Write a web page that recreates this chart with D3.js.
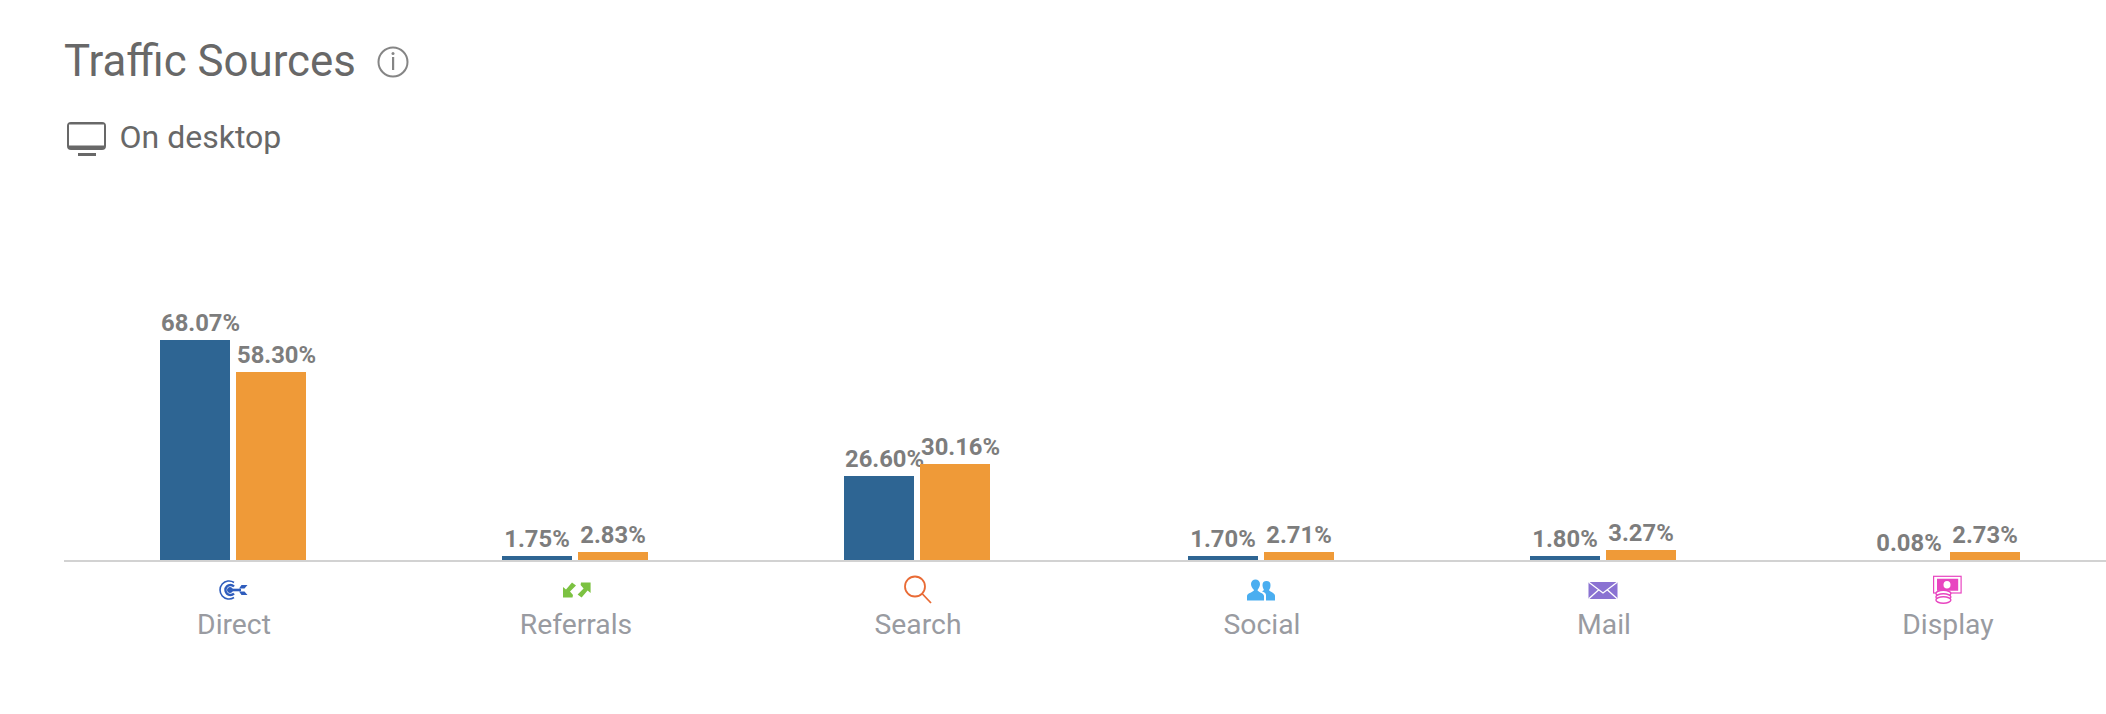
<!DOCTYPE html>
<html><head><meta charset="utf-8">
<script src="https://cdn.jsdelivr.net/npm/d3@7"></script>
<style>html,body{margin:0;padding:0;background:#fff;overflow:hidden}svg{display:block}text{font-family:Roboto,sans-serif}</style>
</head><body><svg id="c" width="2106" height="714"></svg>
<script>
const categories = ["Direct","Referrals","Search","Social","Mail","Display"];
const seriesNames = ["Site A","Site B"];
const seriesA = [68.07,1.75,26.60,1.70,1.80,0.08];
const seriesB = [58.30,2.83,30.16,2.71,3.27,2.73];
const seriesColors = ["#2e6593","#ef9a38"];
const iconColors = ["#2f5dbd","#7cc242","#e96b35","#4aaef0","#8a72d2","#e845c0"];

const svg = d3.select("#c");
const baseY = 560;
const x = d3.scaleBand().domain(categories).range([60.8,2117.8]);
const inner = d3.scaleBand().domain(seriesNames).range([-73,73]).paddingInner(6/76);
const y = d3.scaleLinear().domain([0,68.07]).range([baseY,340]);
const barH = v => Math.floor((baseY - y(v))/2)*2;
const centre = d => Math.round((x(d)+x.bandwidth()/2-73)/2)*2+73;

// Title block
svg.append("text").attr("x",64).attr("y",76).attr("font-size",43.8).attr("fill","#686868").text("Traffic Sources");
const info = svg.append("g").attr("transform","translate(393,62)");
info.append("circle").attr("r",14.5).attr("fill","none").attr("stroke","#858585").attr("stroke-width",2);
info.append("rect").attr("x",-1).attr("y",-5).attr("width",2.2).attr("height",13).attr("fill","#858585");
info.append("circle").attr("cy",-8.5).attr("r",1.5).attr("fill","#858585");
const mon = svg.append("g").attr("fill","#686868");
mon.append("path").attr("fill-rule","evenodd").attr("d","M71 122H102a4 4 0 0 1 4 4V146a4 4 0 0 1-4 4H71a4 4 0 0 1-4-4V126a4 4 0 0 1 4-4ZM69 124.500V145.500H104V124.500Z");
mon.append("rect").attr("x",78).attr("y",153).attr("width",18).attr("height",3);
svg.append("text").attr("x",119.5).attr("y",148).attr("font-size",32).attr("fill","#686868").text("On desktop");

// Axis line
svg.append("rect").attr("x",64).attr("y",baseY).attr("width",2042).attr("height",2).attr("fill","#d2d2d2");

// Bars and labels
const groups = svg.selectAll("g.cat").data(categories).join("g").attr("class","cat")
  .attr("transform",d=>`translate(${centre(d)},0)`);
[seriesA,seriesB].forEach((vals,si)=>{
  const name = seriesNames[si];
  groups.append("rect")
    .attr("x",inner(name)).attr("width",inner.bandwidth())
    .attr("y",(d,i)=>baseY-barH(vals[i])).attr("height",(d,i)=>barH(vals[i]))
    .attr("fill",seriesColors[si]);
  groups.append("text")
    .attr("font-size",23.8).attr("font-weight",700).attr("fill","#7d7d7d")
    .attr("y",(d,i)=>baseY-barH(vals[i])-9.5)
    .text((d,i)=>vals[i].toFixed(2)+"%")
    .each(function(){
      const w = this.getComputedTextLength();
      const bw = inner.bandwidth();
      if (w > bw) d3.select(this).attr("x",inner(name)+1).attr("text-anchor","start");
      else d3.select(this).attr("x",inner(name)+bw/2).attr("text-anchor","middle");
    });
});

// Category labels
groups.append("text").attr("text-anchor","middle").attr("x",1).attr("y",634).attr("font-size",28.3).attr("fill","#999ba1").text(d=>d);

// Icons
const icons = {
  Direct(g){
    g.append("path").attr("fill","none").attr("stroke-width",1.6).attr("d","M1 -7.500A9 9 0 1 0 1 7.500");
    g.append("path").attr("fill","none").attr("stroke-width",2.4).attr("d","M1 -3.500A5 5 0 1 0 1 3.500");
    g.append("circle").attr("cx",-3).attr("r",2.500);
    g.append("path").attr("stroke-width",2.600).attr("d","M-3 0H8");
    g.append("path").attr("stroke","none").attr("d","M6 -1.500L8.500 -5H14.500L11.500 -1.500ZM6 1.500L8.500 5H14.500L11.500 1.500Z");
  },
  Referrals(g){
    g.append("path").attr("stroke","none").attr("d","M-12 7.500V-3L-9 -0.500L-3 -7.500L1 -4.500L-5 1.500L-2 5L-2.500 7.500Z");
    g.append("path").attr("stroke","none").attr("d","M15.600 -7.500V3L12.600 0.500L6.600 7.500L2.600 4.500L8.600 -1.500L5.600 -5L6 -7.500Z");
  },
  Search(g){
    g.append("circle").attr("cx",-2).attr("cy",-3.500).attr("r",10).attr("fill","none").attr("stroke-width",1.800);
    g.append("path").attr("fill","none").attr("stroke-width",1.800).attr("d","M5 3.500L14 13");
  },
  Social(g){
    g.append("path").attr("stroke","none").attr("d","M-14 10.500V6C-14 3 -7 2 -7 0C-9 -2 -10 -4 -10 -6A4.500 4.500 0 0 1 -1 -6C-1 -4 -2 -2 -3.500 0C-3.500 2 3 3 3 6V10.500Z");
    g.append("path").attr("stroke","none").attr("d","M5 10.500V5C5 3 3 2 1 1.500L3 0C2 -2 1.500 -3 1.500 -5A4 4 0 0 1 9.500 -5C9.500 -3 9 -1 8 0C9 2 14 3 14 6V10.500Z");
  },
  Mail(g){
    g.append("rect").attr("x",-14.500).attr("y",-8).attr("width",29).attr("height",17).attr("stroke","none");
    g.append("path").attr("fill","none").attr("stroke","#fff").attr("stroke-width",1.300)
      .attr("d","M-14.500 -8L0 3L14.500 -8M-14.500 9L-4.500 0M14.500 9L4.500 0");
  },
  Display(g){
    g.append("rect").attr("x",-13.400).attr("y",-13.700).attr("width",27.500).attr("height",16.700).attr("fill","none").attr("stroke-width",1.200);
    g.append("path").attr("stroke","none").attr("fill-rule","evenodd").attr("d","M-10 -11.300H11.200V0.700H-10ZM0 -9A3.500 3.800 0 1 0 0 -1.400A3.500 3.800 0 1 0 0 -9Z");
    [3.500,7,10].forEach(cy=>g.append("ellipse").attr("cx",-3.600).attr("cy",cy).attr("rx",7.500).attr("ry",3.200).attr("fill","#fff").attr("stroke-width",1.400));
  }
};
groups.each(function(d,i){
  const g = d3.select(this).append("g").attr("transform","translate(0,590)")
    .attr("fill",iconColors[i]).attr("stroke",iconColors[i]);
  icons[d](g);
});
</script></body></html>
